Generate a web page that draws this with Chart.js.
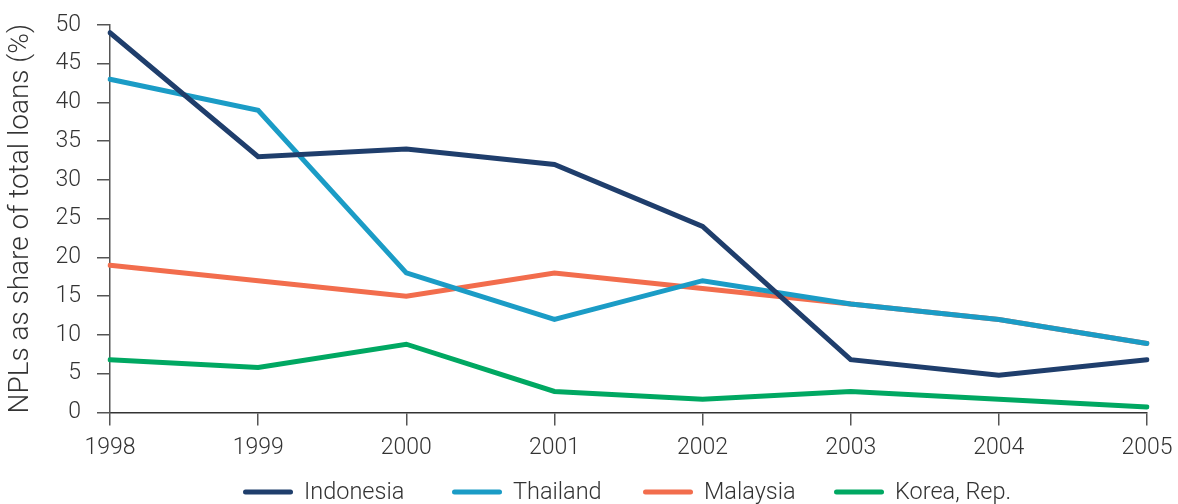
<!DOCTYPE html>
<html>
<head>
<meta charset="utf-8">
<script src="https://cdn.jsdelivr.net/npm/chart.js@4"></script>
<style>
html,body{margin:0;padding:0;background:#fff;}
#wrap{width:1178px;height:504px;position:relative;}
</style>
</head>
<body>
<div id="wrap"><canvas id="c" width="1178" height="504"></canvas></div>
<script>
const years = ["1998","1999","2000","2001","2002","2003","2004","2005"];
const indonesia = [49, 33, 34, 32, 24, 6.8, 4.8, 6.8];
const thailand  = [43, 39, 18, 12, 17, 14, 12, 8.9];
const malaysia  = [19, 17, 15, 18, 16, 14, 12, 8.9];
const korea     = [6.8, 5.8, 8.8, 2.7, 1.7, 2.7, 1.7, 0.7];
const yTicks = [0,5,10,15,20,25,30,35,40,45,50];
const seriesNames = ['Indonesia','Thailand','Malaysia','Korea, Rep.'];
const seriesColors = ['#1f3e6c','#1b9cc6','#f26d4d','#00a862'];

const FONT = "Roboto";
const TXT = "#333333";
const legendX = [243, 452, 643, 834];

function ds(i, data){
  return {label: seriesNames[i], data, borderColor: seriesColors[i], backgroundColor: seriesColors[i],
    borderWidth: 5, pointRadius: 0, pointHoverRadius: 0, tension: 0,
    borderCapStyle: 'round', borderJoinStyle: 'miter', fill: false};
}

const customLegend = {
  id: 'customLegend',
  afterDraw(chart){
    const ctx = chart.ctx;
    ctx.save();
    const y = 492;
    chart.data.datasets.forEach((d,i)=>{
      const x = legendX[i];
      ctx.strokeStyle = d.borderColor;
      ctx.lineWidth = 5;
      ctx.lineCap = 'round';
      ctx.beginPath();
      ctx.moveTo(x+2.5, y);
      ctx.lineTo(x+47.5, y);
      ctx.stroke();
      ctx.fillStyle = TXT;
      ctx.font = `300 23.5px ${FONT}`;
      ctx.textBaseline = 'middle';
      ctx.textAlign = 'left';
      ctx.fillText(d.label, x+61, y+1);
    });
    ctx.restore();
  }
};

new Chart(document.getElementById('c'), {
  type: 'line',
  data: {
    labels: years,
    datasets: [ds(0, indonesia), ds(1, thailand), ds(2, malaysia), ds(3, korea)]
  },
  plugins: [customLegend],
  options: {
    responsive: false,
    animation: false,
    layout: {padding: {left: 0, right: 31, top: 25, bottom: 33}},
    plugins: {
      tooltip: {enabled: false},
      legend: {display: false}
    },
    scales: {
      x: {
        type: 'category',
        offset: false,
        grid: {display: true, drawOnChartArea: false, drawTicks: true, tickLength: 13, color: '#555', lineWidth: 1.5},
        border: {display: true, color: '#333', width: 1.5},
        ticks: {font: {family: FONT, size: 23, weight: 300}, color: TXT, padding: 9, maxRotation: 0, autoSkip: false},
        afterFit(axis){ axis.paddingLeft = 0; axis.paddingRight = 0; }
      },
      y: {
        min: 0, max: 50,
        afterBuildTicks(axis){ axis.ticks = yTicks.map(v=>({value:v})); },
        grid: {display: true, drawOnChartArea: false, drawTicks: true, tickLength: 13, color: '#555', lineWidth: 1.5},
        border: {display: true, color: '#555', width: 1.5},
        ticks: {font: {family: FONT, size: 23, weight: 300}, color: TXT, padding: 16},
        title: {display: true, text: 'NPLs as share of total loans (%)', font: {family: FONT, size: 28, weight: 300}, color: TXT, padding: {top: 4, bottom: 4}},
        afterFit(axis){ axis.width = 110; axis.paddingTop = 0; axis.paddingBottom = 0; }
      }
    }
  }
});
</script>
</body>
</html>
